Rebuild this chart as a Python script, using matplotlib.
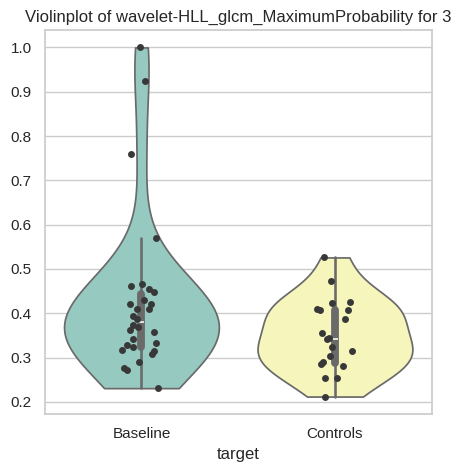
import numpy as np
import pandas as pd
import seaborn as sns
import matplotlib
matplotlib.use("Agg")
import matplotlib.pyplot as plt

# values
categories = ["Baseline", "Controls"]

baseline = [1.000, 0.924, 0.759, 0.571, 0.466, 0.461, 0.455, 0.449, 0.429,
            0.422, 0.422, 0.410, 0.410, 0.393, 0.386, 0.373, 0.369, 0.363,
            0.358, 0.343, 0.332, 0.328, 0.323, 0.318, 0.315, 0.307, 0.289,
            0.277, 0.272, 0.231]
controls = [0.526, 0.472, 0.423, 0.425, 0.410, 0.407, 0.407, 0.386, 0.356,
            0.345, 0.341, 0.324, 0.315, 0.304, 0.289, 0.285, 0.282, 0.253,
            0.253, 0.212]

# horizontal jitter of the strip points (category units)
baseline_jitter = [-0.008, 0.020, -0.053, 0.076, 0.004, -0.054, 0.039, 0.065,
                   0.014, -0.059, 0.048, -0.022, 0.039, -0.042, -0.022, -0.042,
                   -0.017, -0.059, 0.066, -0.045, 0.073, -0.076, -0.042, -0.099,
                   0.066, 0.056, -0.011, -0.090, -0.073, 0.087]
controls_jitter = [-0.055, -0.021, -0.014, 0.079, -0.091, -0.079, 0.067, 0.053,
                   -0.066, -0.029, -0.040, -0.014, 0.089, -0.024, -0.064, -0.074,
                   0.043, -0.050, 0.012, -0.050]

df = pd.DataFrame({
    "target": [categories[0]] * len(baseline) + [categories[1]] * len(controls),
    "value": baseline + controls,
})

sns.set_theme(style="whitegrid")
plt.rcParams["font.family"] = ["Liberation Sans", "DejaVu Sans"]

fig = plt.figure(figsize=(4.6, 4.73), dpi=100)
ax = fig.add_axes([0.0972, 0.1247, 0.8413, 0.8119])

sns.violinplot(data=df, x="target", y="value", hue="target", order=categories,
               palette="Set3", cut=0, legend=False, ax=ax)

for i, (vals, jit) in enumerate([(baseline, baseline_jitter),
                                 (controls, controls_jitter)]):
    ax.scatter(i + np.array(jit), vals, s=25, color="0.22", zorder=5,
               linewidths=0)

ax.set_xlim(-0.5, 1.5)
ax.set_title("Violinplot of wavelet-HLL_glcm_MaximumProbability for 3")
ax.set_ylabel("")
ax.set_xlabel("target")

fig.savefig("out.png", dpi=100)
